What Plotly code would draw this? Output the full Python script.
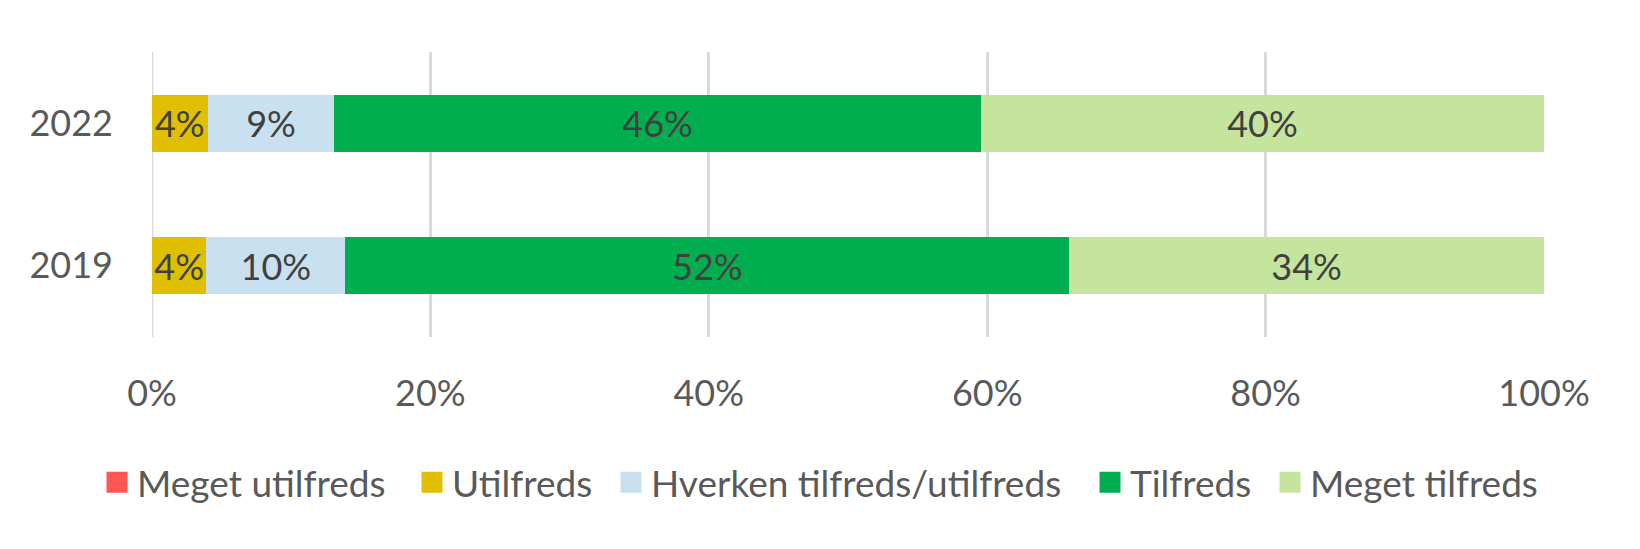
import plotly.graph_objects as go

years = ["2019", "2022"]
series_names = ["Meget utilfreds", "Utilfreds", "Hverken tilfreds/utilfreds", "Tilfreds", "Meget tilfreds"]
meget_utilfreds = [0.0, 0.0]
utilfreds = [3.9, 4.0]
hverken = [10.0, 9.1]
tilfreds = [52.0, 46.45]
meget_tilfreds = [34.1, 40.45]
x_ticks = [0, 20, 40, 60, 80, 100]
x_tick_labels = ["0%", "20%", "40%", "60%", "80%", "100%"]

colors = ["#FF5555", "#DFBF00", "#C9E0F0", "#00AE4F", "#C5E49E"]
values = [meget_utilfreds, utilfreds, hverken, tilfreds, meget_tilfreds]

FONT = "Lato, Calibri, Carlito, sans-serif"
FS = 36
FIG_W, FIG_H = 1624, 533

fig = go.Figure()
for name, vals, col in zip(series_names, values, colors):
    texts = [f"{v:.0f}%" if v > 0 else "" for v in vals]
    fig.add_trace(go.Bar(
        y=years, x=vals, name=name, orientation="h",
        marker=dict(color=col, line=dict(width=0)),
        text=texts, textposition="inside", insidetextanchor="middle",
        textangle=0, constraintext="none",
        textfont=dict(family=FONT, size=FS, color="#404040"),
        cliponaxis=False, showlegend=False,
    ))

# one legend per entry so the entries can be spaced like the original
legend_left_px = [89, 404, 603, 1082, 1262]
legend_names = ["legend", "legend2", "legend3", "legend4", "legend5"]
for name, col, lg in zip(series_names, colors, legend_names):
    fig.add_trace(go.Scatter(
        x=[None], y=[None], mode="markers", name=name, legend=lg,
        marker=dict(symbol="square", size=16, color=col,
                    line=dict(color=col, width=5)),
        showlegend=True,
    ))

legend_common = dict(
    orientation="h", xref="container", xanchor="left",
    yref="container", y=0.1094, yanchor="middle",
    font=dict(family=FONT, size=37, color="#595959"),
    itemsizing="trace", itemwidth=30, bgcolor="rgba(0,0,0,0)",
)
legend_layout = {lg: dict(legend_common, x=px / FIG_W)
                 for lg, px in zip(legend_names, legend_left_px)}

fig.update_layout(
    barmode="stack",
    bargap=0.6,
    width=FIG_W, height=FIG_H,
    margin=dict(l=144, r=88, t=44, b=204),
    paper_bgcolor="white", plot_bgcolor="white",
    font=dict(family=FONT, color="#595959"),
    xaxis=dict(
        range=[0, 100], tickvals=x_ticks, ticktext=x_tick_labels,
        showgrid=True, gridcolor="#D9D9D9", gridwidth=2.5,
        zeroline=False, showline=False,
        tickfont=dict(family=FONT, size=FS, color="#595959"),
        ticklabelstandoff=32,
    ),
    yaxis=dict(
        showgrid=False, zeroline=False, showline=False,
        tickfont=dict(family=FONT, size=FS, color="#595959"),
        ticklabelstandoff=38,
    ),
    showlegend=True,
    **legend_layout,
)
fig.add_shape(type="line", xref="x", yref="paper", x0=0, x1=0, y0=0, y1=1,
              line=dict(color="#D9D9D9", width=2.5), layer="below")

fig.write_html("out.html")
